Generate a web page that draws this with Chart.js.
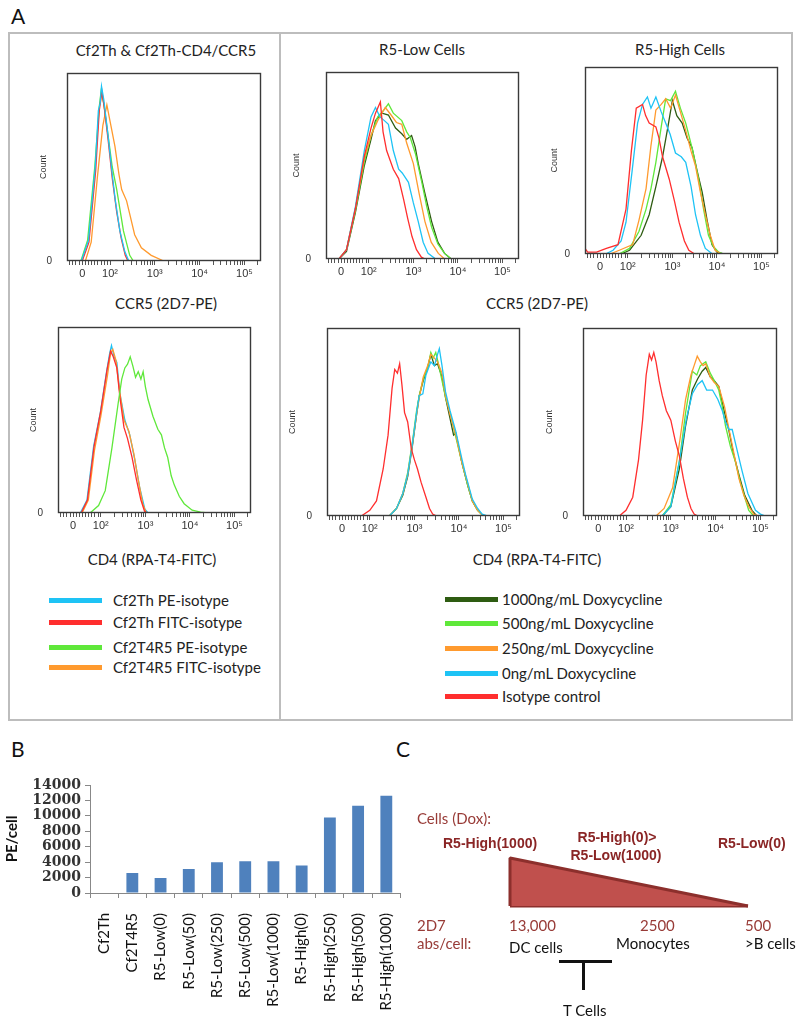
<!DOCTYPE html>
<html>
<head>
<meta charset="utf-8">
<title>CCR5 / CD4 expression</title>
<script src="https://cdn.jsdelivr.net/npm/chart.js@4.4.0/dist/chart.umd.min.js"></script>
<style>
  body { margin: 0; background: #fff; }
  #page { position: relative; width: 799px; height: 1017px; overflow: hidden; font-family: Lato, "Open Sans", sans-serif; color: #111; }
  .wrap { position: absolute; }
  .t { position: absolute; white-space: nowrap; line-height: 1; }
  .c { transform: translate(-50%, -50%); }
  .l { transform: translate(0, -50%); }
  .big { font-size: 21px; }
  .ttl { font-size: 15px; color: #222; }
  .leg { font-size: 15px; color: #222; }
  .swatch { position: absolute; height: 5px; width: 53px; }
  .dr { color: #983b37; font-size: 15px; }
  .drb { color: #8a2525; font-size: 14px; font-weight: bold; font-family: "Liberation Sans", Arial, sans-serif; }
  .bk { color: #111; font-size: 15px; }
</style>
</head>
<body>
<div id="page">
  <!-- panel A frame -->
  <div style="position:absolute;left:8px;top:32px;width:785px;height:689px;border:2px solid #bdbdbd;box-sizing:border-box"></div>
  <div style="position:absolute;left:279px;top:32px;width:2px;height:689px;background:#bdbdbd"></div>

  <div class="t l big" style="left:11px;top:15px">A</div>
  <div class="t l big" style="left:11px;top:748px">B</div>
  <div class="t l big" style="left:396px;top:748px">C</div>

  <div class="t c ttl" style="left:166px;top:50px">Cf2Th &amp; Cf2Th-CD4/CCR5</div>
  <div class="t c ttl" style="left:422px;top:49px">R5-Low Cells</div>
  <div class="t c ttl" style="left:680px;top:49px">R5-High Cells</div>
  <div class="t c ttl" style="left:166px;top:303px">CCR5 (2D7-PE)</div>
  <div class="t c ttl" style="left:537px;top:303px">CCR5 (2D7-PE)</div>
  <div class="t c ttl" style="left:152px;top:559px">CD4 (RPA-T4-FITC)</div>
  <div class="t c ttl" style="left:537px;top:559px">CD4 (RPA-T4-FITC)</div>

  <div id="h1" class="wrap"></div>
  <div id="h2" class="wrap"></div>
  <div id="h3" class="wrap"></div>
  <div id="h4" class="wrap"></div>
  <div id="h5" class="wrap"></div>
  <div id="h6" class="wrap"></div>

  <!-- panel B -->
  <div class="wrap" style="left:0;top:770px;width:420px;height:247px"><canvas id="barB" width="420" height="247"></canvas></div>

  <!-- panel C -->
  <div class="t l dr" style="left:417px;top:818px">Cells (Dox):</div>
  <div class="t l drb" style="left:443px;top:843px">R5-High(1000)</div>
  <div class="t c drb" style="left:617px;top:837px">R5-High(0)&gt;</div>
  <div class="t c drb" style="left:616px;top:855px">R5-Low(1000)</div>
  <div class="t l drb" style="left:718px;top:843px">R5-Low(0)</div>
  <div class="wrap" style="left:505px;top:853px;width:248px;height:58px"><canvas id="triC" width="248" height="58"></canvas></div>
  <div class="t l dr" style="left:417px;top:925px">2D7</div>
  <div class="t l dr" style="left:417px;top:943px">abs/cell:</div>
  <div class="t l dr" style="left:509px;top:925px">13,000</div>
  <div class="t l dr" style="left:640px;top:925px">2500</div>
  <div class="t l dr" style="left:745px;top:925px">500</div>
  <div class="t l bk" style="left:509px;top:947px">DC cells</div>
  <div class="t l bk" style="left:616px;top:943px">Monocytes</div>
  <div class="t l bk" style="left:745px;top:943px">&gt;B cells</div>
  <div style="position:absolute;left:559px;top:960px;width:53px;height:3px;background:#111"></div>
  <div style="position:absolute;left:582px;top:960px;width:3px;height:30px;background:#111"></div>
  <div class="t l bk" style="left:563px;top:1010px">T Cells</div>
</div>

<script>
// couleurs des courbes
const RED = '#ff2e2e', BLUE = '#1ec3f5', ORANGE = '#ff9a2e', LGREEN = '#5fe83a', DGREEN = '#2e5c12';

// axe x des histogrammes (unites log affichees, 0 = position du "0")
const X_MIN = 1.04, X_MAX = 5.37;
const xMajorPos = [1.38, 2, 3, 4, 5];
const xMajorLabels = ['0', '10\u00b2', '10\u00b3', '10\u2074', '10\u2075'];

// Cf2Th - CCR5 : [position, % du max]
const p1Blue = [[1.04,0],[1.36,0],[1.52,11],[1.67,50],[1.74,80],[1.78,84],[1.81,93],[1.86,86],[1.95,68],[2.05,46],[2.12,32],[2.22,16],[2.33,5],[2.42,0],[5.37,0]];
const p1Red = [[1.04,0],[1.38,0],[1.53,10],[1.68,48],[1.76,80],[1.82,90],[1.88,80],[1.96,64],[2.05,44],[2.15,26],[2.25,12],[2.34,3],[2.4,0],[5.37,0]];
const p1Green = [[1.04,0],[1.35,0],[1.5,11],[1.66,50],[1.76,82],[1.8,90],[1.86,84],[1.95,68],[2.05,50],[2.15,38],[2.3,16],[2.44,3],[2.52,0],[5.37,0]];
const p1Orange = [[1.04,0],[1.45,0],[1.58,10],[1.72,45],[1.84,72],[1.93,83],[2.02,72],[2.11,61],[2.2,46],[2.26,38],[2.37,32],[2.45,24],[2.55,14],[2.7,7],[2.92,3],[3.2,0],[5.37,0]];

// R5-Low - CCR5
const p2Red = [[1.04,0],[1.33,0],[1.5,5],[1.7,27],[1.9,55],[2.05,70],[2.15,78],[2.26,84],[2.32,68],[2.4,58],[2.55,48],[2.67,43],[2.78,32],[2.87,22],[2.97,12],[3.07,5],[3.18,1],[3.26,0],[5.37,0]];
const p2Blue = [[1.04,0],[1.33,0],[1.5,5],[1.7,28],[1.9,58],[2.05,76],[2.15,81],[2.25,76],[2.35,74],[2.44,72],[2.55,58],[2.67,48],[2.75,46],[2.89,41],[3.0,30],[3.11,20],[3.22,9],[3.33,3],[3.5,0],[5.37,0]];
const p2Orange = [[1.04,0],[1.33,0],[1.5,5],[1.7,27],[1.9,54],[2.05,66],[2.2,74],[2.37,81],[2.5,77],[2.62,73],[2.74,72],[2.85,62],[3.0,51],[3.13,35],[3.26,20],[3.4,9],[3.56,3],[3.7,0],[5.37,0]];
const p2LGreen = [[1.04,0],[1.33,0],[1.5,5],[1.7,26],[1.9,52],[2.05,66],[2.2,76],[2.35,80],[2.44,83],[2.55,78],[2.74,74],[2.85,68],[2.93,65],[3.05,56],[3.19,41],[3.3,28],[3.41,17],[3.55,8],[3.7,3],[3.85,0],[5.37,0]];
const p2DGreen = [[1.04,0],[1.33,0],[1.5,4],[1.7,25],[1.9,50],[2.05,64],[2.15,74],[2.3,78],[2.44,77],[2.6,70],[2.74,67],[2.85,64],[2.96,66],[3.04,60],[3.11,51],[3.25,36],[3.41,20],[3.55,9],[3.7,3],[3.85,0],[5.37,0]];

// R5-High - CCR5
const p3Red = [[1.04,3],[1.1,1],[1.3,1],[1.52,3],[1.78,5],[1.96,24],[2.08,55],[2.19,78],[2.33,80],[2.4,74],[2.48,70],[2.63,68],[2.7,62],[2.78,52],[2.93,40],[3.05,28],[3.15,17],[3.27,7],[3.37,2],[3.5,0],[5.37,0]];
const p3Blue = [[1.04,0],[1.5,0],[1.67,2],[1.85,7],[1.96,17],[2.1,45],[2.22,70],[2.33,80],[2.44,84],[2.52,78],[2.63,84],[2.75,76],[2.85,70],[2.95,64],[3.07,54],[3.2,52],[3.3,49],[3.42,36],[3.52,21],[3.63,10],[3.74,3],[3.9,0],[5.37,0]];
const p3Orange = [[1.04,0],[1.6,0],[1.81,2],[2.11,5],[2.25,18],[2.41,35],[2.52,58],[2.63,77],[2.75,80],[2.85,83],[2.96,78],[3.07,85],[3.18,76],[3.3,66],[3.42,55],[3.52,47],[3.63,33],[3.74,21],[3.85,10],[3.96,2],[4.1,0],[5.37,0]];
const p3LGreen = [[1.04,0],[1.8,0],[2.04,3],[2.25,12],[2.41,24],[2.52,35],[2.63,49],[2.75,68],[2.85,83],[2.96,82],[3.07,87],[3.18,78],[3.3,70],[3.45,56],[3.59,40],[3.7,24],[3.81,10],[3.92,4],[4.04,1],[4.15,0],[5.37,0]];
const p3DGreen = [[1.04,0],[1.85,0],[2.04,2],[2.3,10],[2.48,21],[2.63,36],[2.78,52],[2.9,68],[3.0,82],[3.1,74],[3.22,70],[3.33,62],[3.44,57],[3.55,45],[3.67,33],[3.78,18],[3.89,5],[4.0,1],[4.15,0],[5.37,0]];

// Cf2Th - CD4
const p4Blue = [[1.04,0],[1.54,0],[1.69,7],[1.84,36],[1.99,54],[2.13,76],[2.2,86],[2.24,90],[2.3,84],[2.36,81],[2.43,64],[2.54,50],[2.65,42],[2.76,29],[2.87,14],[2.99,2],[3.06,0],[5.37,0]];
const p4Red = [[1.04,0],[1.56,0],[1.7,7],[1.85,36],[2.0,55],[2.14,77],[2.22,87],[2.28,84],[2.36,78],[2.43,62],[2.52,46],[2.6,40],[2.7,30],[2.8,18],[2.9,7],[2.98,1],[3.04,0],[5.37,0]];
const p4Orange = [[1.04,0],[1.58,0],[1.72,7],[1.86,34],[2.0,52],[2.15,74],[2.22,86],[2.27,88],[2.34,82],[2.42,66],[2.52,50],[2.63,44],[2.74,32],[2.84,18],[2.94,5],[3.02,0],[5.37,0]];
const p4Green = [[1.04,0],[1.76,0],[1.95,4],[2.1,12],[2.25,35],[2.39,59],[2.47,72],[2.54,78],[2.6,80],[2.66,84],[2.72,79],[2.78,73],[2.84,76],[2.9,72],[2.95,76],[3.0,68],[3.06,61],[3.17,52],[3.28,45],[3.36,42],[3.43,35],[3.5,30],[3.58,20],[3.65,15],[3.76,9],[3.87,5],[4.05,1.5],[4.24,0.5],[4.4,0],[5.37,0]];

// R5-Low - CD4
const p5Red = [[1.04,0],[1.81,0],[2.0,3],[2.15,8],[2.3,25],[2.41,43],[2.5,68],[2.56,78],[2.62,76],[2.67,81],[2.72,70],[2.78,55],[2.85,50],[2.93,36],[3.0,30],[3.07,25],[3.15,18],[3.26,10],[3.34,4],[3.41,1],[3.5,0],[5.37,0]];
const p5Blue = [[1.04,0],[2.44,0],[2.6,4],[2.74,12],[2.85,22],[2.96,39],[3.05,55],[3.11,64],[3.19,65],[3.26,75],[3.37,82],[3.45,80],[3.52,86],[3.56,89],[3.62,80],[3.7,66],[3.8,56],[3.93,45],[4.07,30],[4.15,22],[4.3,9],[4.42,4],[4.52,1],[4.65,0],[5.37,0]];
const p5Orange = [[1.04,0],[2.44,0],[2.6,4],[2.74,12],[2.85,22],[2.96,39],[3.05,54],[3.11,63],[3.2,74],[3.3,80],[3.37,86],[3.45,84],[3.52,82],[3.62,76],[3.7,64],[3.8,54],[3.93,43],[4.07,28],[4.2,17],[4.3,8],[4.42,3],[4.55,0],[5.37,0]];
const p5LGreen = [[1.04,0],[2.44,0],[2.6,4],[2.74,12],[2.85,23],[2.96,40],[3.05,56],[3.11,64],[3.2,73],[3.3,79],[3.37,87],[3.42,84],[3.48,87],[3.55,80],[3.62,72],[3.7,63],[3.8,55],[3.93,42],[4.07,28],[4.2,16],[4.3,8],[4.42,3],[4.55,0],[5.37,0]];
const p5DGreen = [[1.04,0],[2.44,0],[2.6,4],[2.74,11],[2.85,21],[2.96,38],[3.05,54],[3.11,64],[3.2,72],[3.3,79],[3.37,86],[3.45,80],[3.52,81],[3.62,74],[3.7,63],[3.8,52],[3.88,43],[3.93,44],[4.07,28],[4.2,16],[4.3,8],[4.42,3],[4.55,0],[5.37,0]];

// R5-High - CD4
const p6Red = [[1.04,0],[1.85,0],[2.0,3],[2.15,10],[2.28,30],[2.37,51],[2.45,75],[2.52,86],[2.57,83],[2.62,87],[2.67,82],[2.74,72],[2.81,64],[2.9,56],[3.0,51],[3.1,40],[3.19,32],[3.28,20],[3.37,10],[3.45,4],[3.52,1],[3.6,0],[5.37,0]];
const p6Orange = [[1.04,0],[2.67,0],[2.85,4],[3.04,15],[3.2,40],[3.33,62],[3.45,75],[3.52,80],[3.59,85],[3.66,82],[3.72,80],[3.78,81],[3.88,74],[3.97,71],[4.07,69],[4.2,58],[4.3,46],[4.42,32],[4.52,20],[4.63,11],[4.74,5],[4.85,1],[4.96,0],[5.37,0]];
const p6LGreen = [[1.04,0],[2.81,0],[3.0,6],[3.19,29],[3.33,55],[3.48,77],[3.58,75],[3.66,80],[3.78,82],[3.88,76],[3.97,72],[4.07,67],[4.15,58],[4.22,48],[4.33,37],[4.44,29],[4.55,18],[4.65,10],[4.74,3],[4.85,0],[5.37,0]];
const p6DGreen = [[1.04,0],[2.81,0],[3.0,5],[3.19,25],[3.33,48],[3.48,67],[3.6,73],[3.7,77],[3.78,79],[3.88,74],[3.97,72],[4.07,69],[4.18,57],[4.3,45],[4.4,33],[4.52,22],[4.65,11],[4.81,3],[4.92,0],[5.37,0]];
const p6Blue = [[1.04,0],[2.81,0],[3.0,5],[3.19,29],[3.35,52],[3.48,65],[3.6,70],[3.7,72],[3.8,67],[3.93,67],[4.05,62],[4.15,56],[4.22,50],[4.3,46],[4.37,46],[4.45,38],[4.59,24],[4.72,12],[4.89,3],[5.0,1],[5.11,0],[5.37,0]];

// panneau B
const sampleNames = ['Cf2Th', 'Cf2T4R5', 'R5-Low(0)', 'R5-Low(50)', 'R5-Low(250)', 'R5-Low(500)', 'R5-Low(1000)', 'R5-High(0)', 'R5-High(250)', 'R5-High(500)', 'R5-High(1000)'];
const pePerCell = [0, 2600, 1950, 3100, 4000, 4100, 4100, 3550, 9800, 11300, 12600];
const peTicks = [0, 2000, 4000, 6000, 8000, 10000, 12000, 14000];

// panneau C : gradient relatif (forte -> faible expression)
const gradientPos = [0, 0, 1];
const gradientLevel = [0, 1, 0];
const baselinePos = [0, 1];

// legendes
const legendLeft = [['Cf2Th PE-isotype', BLUE], ['Cf2Th FITC-isotype', RED], ['Cf2T4R5 PE-isotype', LGREEN], ['Cf2T4R5 FITC-isotype', ORANGE]];
const legendRight = [['1000ng/mL Doxycycline', DGREEN], ['500ng/mL Doxycycline', LGREEN], ['250ng/mL Doxycycline', ORANGE], ['0ng/mL Doxycycline', BLUE], ['Isotype control', RED]];

// graduations de l'axe x (majeures + mineures)
function buildXTicks() {
    const ticks = xMajorPos.map((v, i) => ({ value: v, label: xMajorLabels[i] }));
    [1.1, 1.17, 1.24, 1.31, 1.45, 1.52, 1.59, 1.66, 1.73, 1.8, 1.87, 1.94].forEach(v => ticks.push({ value: v, label: '' }));
    for (let d = 2; d <= 5; d++) {
        for (let k = 2; k <= 9; k++) {
            const v = d + Math.log10(k);
            if (v < X_MAX) ticks.push({ value: v, label: '' });
        }
    }
    ticks.sort((a, b) => a.value - b.value);
    return ticks;
}

const framePlugin = {
    id: 'frame',
    afterDatasetsDraw(chart) {
        const a = chart.chartArea, ctx = chart.ctx;
        ctx.save();
        ctx.strokeStyle = '#3a3a3a';
        ctx.lineWidth = 1.4;
        ctx.strokeRect(a.left + 0.5, a.top + 0.5, a.right - a.left - 1, a.bottom - a.top - 1);
        ctx.restore();
    }
};

function makeHist(id, box, series, countGap) {
    const wrap = document.getElementById(id);
    const w = box.w + 50, h = box.h + 38;
    wrap.style.left = (box.l - 40) + 'px';
    wrap.style.top = (box.t - 8) + 'px';
    wrap.style.width = w + 'px';
    wrap.style.height = h + 'px';
    const canvas = document.createElement('canvas');
    canvas.width = w;
    canvas.height = h;
    wrap.appendChild(canvas);
    const xTicks = buildXTicks();

    new Chart(canvas, {
        type: 'scatter',
        data: {
            datasets: series.map(s => ({
                data: s[0].map(p => ({ x: p[0], y: p[1] })),
                borderColor: s[1],
                borderWidth: 1.3,
                pointRadius: 0,
                showLine: true,
                fill: false
            }))
        },
        options: {
            responsive: false,
            animation: false,
            devicePixelRatio: 1,
            layout: { padding: { top: 8, right: 10, left: 0, bottom: 0 } },
            plugins: { legend: { display: false }, tooltip: { enabled: false } },
            scales: {
                x: {
                    type: 'linear', min: X_MIN, max: X_MAX,
                    afterBuildTicks: scale => { scale.ticks = xTicks.map(t => ({ value: t.value })); },
                    afterFit: scale => { scale.height = 30; },
                    ticks: {
                        autoSkip: false, maxRotation: 0, padding: 2,
                        font: { family: 'Liberation Sans', size: 11 }, color: '#333',
                        callback: (v, i) => xTicks[i].label
                    },
                    grid: { display: true, drawOnChartArea: false, tickLength: 4, color: '#555' },
                    border: { display: false }
                },
                y: {
                    min: 0, max: 100,
                    afterBuildTicks: scale => { scale.ticks = [{ value: 0 }]; },
                    afterFit: scale => { scale.width = 40; },
                    ticks: { padding: 7, font: { family: 'Liberation Sans', size: 10 }, color: '#333', callback: () => '0' },
                    grid: { display: false },
                    border: { display: false },
                    title: {
                        display: true, text: 'Count', color: '#333',
                        font: { family: 'Liberation Sans', size: 9 },
                        padding: { top: Math.max(0, 40 - countGap - 5.5), bottom: 0 }
                    }
                }
            }
        },
        plugins: [framePlugin]
    });
}

makeHist('h1', { l: 67, t: 68, w: 194, h: 193 }, [[p1Blue, BLUE], [p1Red, RED], [p1Green, LGREEN], [p1Orange, ORANGE]], 23);
makeHist('h2', { l: 326, t: 67, w: 193, h: 192 }, [[p2Red, RED], [p2Blue, BLUE], [p2Orange, ORANGE], [p2LGreen, LGREEN], [p2DGreen, DGREEN]], 29);
makeHist('h3', { l: 585, t: 62, w: 193, h: 192 }, [[p3Red, RED], [p3Blue, BLUE], [p3Orange, ORANGE], [p3LGreen, LGREEN], [p3DGreen, DGREEN]], 30);
makeHist('h4', { l: 58, t: 322, w: 193, h: 191 }, [[p4Green, LGREEN], [p4Red, RED], [p4Orange, ORANGE], [p4Blue, BLUE]], 24);
makeHist('h5', { l: 327, t: 323, w: 193, h: 193 }, [[p5Red, RED], [p5Blue, BLUE], [p5Orange, ORANGE], [p5LGreen, LGREEN], [p5DGreen, DGREEN]], 34);
makeHist('h6', { l: 583, t: 323, w: 194, h: 193 }, [[p6Red, RED], [p6Blue, BLUE], [p6Orange, ORANGE], [p6LGreen, LGREEN], [p6DGreen, DGREEN]], 33);

// legendes en HTML
function drawLegend(items, lineLeft, textLeft, rows) {
    const page = document.getElementById('page');
    items.forEach((item, i) => {
        const sw = document.createElement('div');
        sw.className = 'swatch';
        sw.style.left = lineLeft + 'px';
        sw.style.top = (rows[i] - 2) + 'px';
        sw.style.background = item[1];
        page.appendChild(sw);
        const tx = document.createElement('div');
        tx.className = 't l leg';
        tx.style.left = textLeft + 'px';
        tx.style.top = rows[i] + 'px';
        tx.textContent = item[0];
        page.appendChild(tx);
    });
}
drawLegend(legendLeft, 49, 113, [600, 622, 647, 667]);
drawLegend(legendRight, 445, 502, [599, 623, 648, 673, 696]);

// panneau B : histogramme en barres
new Chart(document.getElementById('barB'), {
    type: 'bar',
    data: {
        labels: sampleNames,
        datasets: [{ data: pePerCell, backgroundColor: '#4f81bd', barPercentage: 0.42, categoryPercentage: 1 }]
    },
    options: {
        responsive: false,
        animation: false,
        devicePixelRatio: 1,
        layout: { padding: { top: 15, right: 15, left: 0, bottom: 0 } },
        plugins: { legend: { display: false }, tooltip: { enabled: false } },
        scales: {
            x: {
                afterFit: scale => { scale.height = 124; },
                ticks: { minRotation: 90, maxRotation: 90, autoSkip: false, padding: 15, font: { family: 'Lato', size: 15 }, color: '#111' },
                grid: { display: true, drawOnChartArea: false, offset: true, tickLength: 5, color: '#888' },
                border: { color: '#888' }
            },
            y: {
                min: 0, max: 14000,
                afterBuildTicks: scale => { scale.ticks = peTicks.map(v => ({ value: v })); },
                afterFit: scale => { scale.width = 90; },
                ticks: { autoSkip: false, padding: 4, font: { family: 'DejaVu Serif', size: 14, weight: 'bold' }, color: '#333', callback: v => String(v) },
                grid: { display: true, drawOnChartArea: false, tickLength: 5, color: '#888' },
                border: { color: '#888' },
                title: { display: true, text: 'PE/cell', color: '#111', font: { family: 'Lato', size: 15, weight: 'bold' }, padding: { top: 3, bottom: 0 } }
            }
        }
    }
});

// panneau C : triangle de gradient
new Chart(document.getElementById('triC'), {
    type: 'line',
    data: {
        datasets: [{
            data: gradientPos.map((x, i) => ({ x: x, y: gradientLevel[i] })),
            fill: 'origin',
            backgroundColor: '#c0504d',
            borderColor: '#8c2f2c',
            borderWidth: 3,
            borderJoinStyle: 'bevel',
            pointRadius: 0,
            tension: 0,
            clip: false
        }, {
            data: baselinePos.map(x => ({ x: x, y: 0 })),
            fill: false,
            borderColor: '#8c2f2c',
            borderWidth: 3,
            pointRadius: 0,
            clip: false
        }]
    },
    options: {
        responsive: false,
        animation: false,
        devicePixelRatio: 1,
        layout: { padding: 5 },
        plugins: { legend: { display: false }, tooltip: { enabled: false } },
        scales: {
            x: { type: 'linear', display: false, min: 0, max: 1 },
            y: { display: false, min: 0, max: 1 }
        }
    }
});
</script>
</body>
</html>
